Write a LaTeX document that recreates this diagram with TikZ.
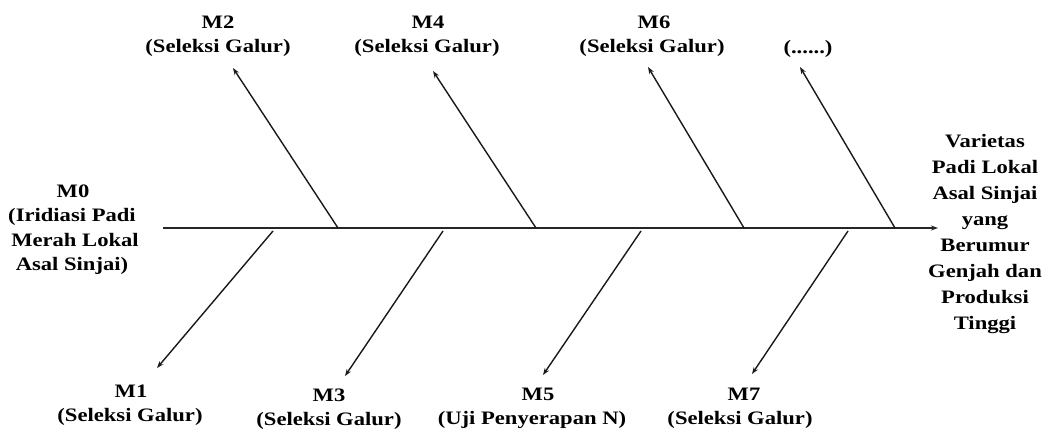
\documentclass[tikz,border=0pt]{standalone}
\usepackage{fontspec}
\setmainfont{Liberation Serif}
\usetikzlibrary{arrows.meta}
\tikzset{
  lbl/.style={font=\bfseries\fontsize{19}{24}\selectfont, anchor=base, inner sep=0pt, xscale=1.19, transform shape},
  spine/.style={line width=1.5pt, draw=black!85, -{Stealth[length=7pt,width=5pt]}},
  bone/.style={line width=1.4pt, draw=black!90, -{Stealth[length=7pt,width=5pt]}}
}
\begin{document}
\begin{tikzpicture}[x=1pt,y=-1pt]
\useasboundingbox (0,0) rectangle (1048,431);
% spine
\coordinate (s0) at (163,228);
\coordinate (s1) at (938,228);
\draw[spine] (s0) -- (s1);
% upper bones
\coordinate (ub2) at (338,228); \coordinate (ut2) at (233,68);
\coordinate (ub4) at (536,228); \coordinate (ut4) at (433,71);
\coordinate (ub6) at (744,228); \coordinate (ut6) at (648,67);
\coordinate (ub8) at (895,228); \coordinate (ut8) at (800,67);
\draw[bone] (ub2) -- (ut2);
\draw[bone] (ub4) -- (ut4);
\draw[bone] (ub6) -- (ut6);
\draw[bone] (ub8) -- (ut8);
% lower bones
\coordinate (lb1) at (273,231); \coordinate (lt1) at (157,368);
\coordinate (lb3) at (443,231); \coordinate (lt3) at (345,376);
\coordinate (lb5) at (641,231); \coordinate (lt5) at (543,375);
\coordinate (lb7) at (848,231); \coordinate (lt7) at (752,374);
\draw[bone] (lb1) -- (lt1);
\draw[bone] (lb3) -- (lt3);
\draw[bone] (lb5) -- (lt5);
\draw[bone] (lb7) -- (lt7);
% upper labels
\node[lbl] (m2a) at (218,28) {M2};
\node[lbl] (m2b) at (218,52) {(Seleksi Galur)};
\node[lbl] (m4a) at (428,28) {M4};
\node[lbl] (m4b) at (427,52) {(Seleksi Galur)};
\node[lbl] (m6a) at (654,28) {M6};
\node[lbl] (m6b) at (652,52) {(Seleksi Galur)};
\node[lbl] (m8b) at (808,53) {(......)};
% lower labels
\node[lbl] (m1a) at (131,397) {M1};
\node[lbl] (m1b) at (130,421) {(Seleksi Galur)};
\node[lbl] (m3a) at (329,401) {M3};
\node[lbl] (m3b) at (329,425) {(Seleksi Galur)};
\node[lbl] (m5a) at (538,400) {M5};
\node[lbl] (m5b) at (532,424) {(Uji Penyerapan N)};
\node[lbl] (m7a) at (744,400) {M7};
\node[lbl] (m7b) at (740,424) {(Seleksi Galur)};
% left block
\node[lbl] (m0a) at (73,197) {M0};
\node[lbl] (m0b) at (72,221) {(Iridiasi Padi};
\node[lbl] (m0c) at (75,246) {Merah Lokal};
\node[lbl] (m0d) at (72,270) {Asal Sinjai)};
% right block
\node[lbl] (r1) at (985,147) {Varietas};
\node[lbl] (r2) at (985,173) {Padi Lokal};
\node[lbl] (r3) at (985,199) {Asal Sinjai};
\node[lbl] (r4) at (985,225) {yang};
\node[lbl] (r5) at (985,251) {Berumur};
\node[lbl] (r6) at (985,277) {Genjah dan};
\node[lbl] (r7) at (985,303) {Produksi};
\node[lbl] (r8) at (985,329) {Tinggi};
\end{tikzpicture}
\end{document}
